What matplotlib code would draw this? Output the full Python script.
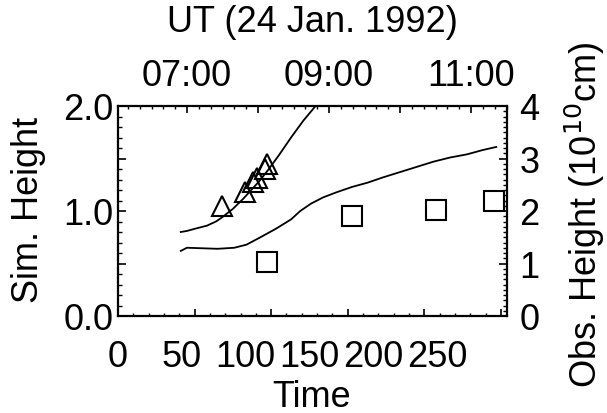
import matplotlib
matplotlib.use("Agg")
import matplotlib.pyplot as plt
from matplotlib.ticker import FixedLocator, MultipleLocator, FuncFormatter

plt.rcParams['font.family'] = ['Liberation Sans', 'DejaVu Sans']

# ---- data ----
# simulation curves (Time, Sim. Height)
sim1_t = [41, 45, 50, 58, 64, 68, 75, 82, 87, 92, 98, 105, 113, 121, 129, 133]
sim1_h = [0.80, 0.81, 0.83, 0.86, 0.90, 0.94, 1.02, 1.12, 1.20, 1.28, 1.39, 1.53, 1.70, 1.86, 2.00, 2.07]
sim2_t = [41, 45, 55, 65, 76, 84, 93, 103, 113, 119, 126, 134, 143, 153, 163, 173, 184, 195, 206, 217, 228, 238, 247]
sim2_h = [0.62, 0.65, 0.645, 0.64, 0.65, 0.68, 0.75, 0.83, 0.92, 1.00, 1.07, 1.13, 1.18, 1.23, 1.27, 1.32,
          1.37, 1.42, 1.47, 1.51, 1.54, 1.58, 1.61]
# observations (UT hours, Obs. Height in 1e10 cm)
tri_ut = [7.49, 7.82, 7.93, 7.98, 8.10, 8.13]
tri_h = [2.10, 2.37, 2.55, 2.62, 2.80, 2.90]
sq_ut = [8.12, 9.32, 10.51, 11.32]
sq_h = [1.03, 1.90, 2.01, 2.20]

time_ticks = [0, 50, 100, 150, 200, 250]
ut_ticks = [7, 8, 9, 10, 11]
ut_labels = {7: "07:00", 9: "09:00", 11: "11:00"}
sim_ticks = [0.0, 0.5, 1.0, 1.5, 2.0]
sim_labels = {0.0: "0.0", 1.0: "1.0", 2.0: "2.0"}
obs_ticks = [0, 1, 2, 3, 4]

FS = 26
fig = plt.figure(figsize=(6.07, 4.14), dpi=100)
pos = [118 / 607, 1 - 317 / 414, (507 - 118) / 607, (317 - 107) / 414]

ax = fig.add_axes(pos)
ax.set_xlim(0, 254)
ax.set_ylim(0, 2.0)
ax.plot(sim1_t, sim1_h, color='black', lw=1.3)
ax.plot(sim2_t, sim2_h, color='black', lw=1.3)

# bottom axis: tick marks at true positions, labels placed as drawn in the reference
ax.xaxis.set_major_locator(FixedLocator(time_ticks))
ax.xaxis.set_minor_locator(MultipleLocator(10))
ax.set_xticklabels([])
ax.tick_params(axis='x', which='major', direction='in', length=5, width=1.2, top=False)
ax.tick_params(axis='x', which='minor', direction='in', length=2.5, width=1.0, top=False)
for v in time_ticks:
    ax.text(v * 0.833, -0.39, str(v), ha='center', va='center', fontsize=FS,
            transform=ax.transData, clip_on=False)

ax.yaxis.set_major_locator(FixedLocator(sim_ticks))
ax.yaxis.set_minor_locator(MultipleLocator(0.1))
ax.yaxis.set_major_formatter(FuncFormatter(lambda v, p: sim_labels.get(round(v, 1), "")))
ax.tick_params(axis='y', which='major', direction='in', length=6, width=1.2, right=False,
               labelsize=FS, pad=3)
ax.tick_params(axis='y', which='minor', direction='in', length=3, width=1.0, right=False)

# observation axes (top UT, right Obs. Height)
ax2 = fig.add_axes(pos, frameon=False)
ax2.patch.set_visible(False)
ax2.set_xlim(6.028, 11.507)
ax2.set_ylim(0, 4)
ax2.plot(tri_ut, tri_h, linestyle='none', marker='^', markersize=14, markerfacecolor='none',
         markeredgecolor='black', markeredgewidth=1.5, clip_on=False)
ax2.plot(sq_ut, sq_h, linestyle='none', marker='s', markersize=14, markerfacecolor='none',
         markeredgecolor='black', markeredgewidth=1.5, clip_on=False)
ax2.xaxis.tick_top()
ax2.yaxis.tick_right()
ax2.xaxis.set_major_locator(FixedLocator(ut_ticks))
ax2.xaxis.set_minor_locator(MultipleLocator(1 / 6))
ax2.xaxis.set_major_formatter(FuncFormatter(lambda v, p: ut_labels.get(int(round(v)), "")))
ax2.tick_params(axis='x', which='major', direction='in', length=5, width=1.2, labelsize=FS, pad=9)
ax2.tick_params(axis='x', which='minor', direction='in', length=2.5, width=1.0)
ax2.yaxis.set_major_locator(FixedLocator(obs_ticks))
ax2.yaxis.set_minor_locator(MultipleLocator(0.1))
ax2.tick_params(axis='y', which='major', direction='in', length=6, width=1.2, labelsize=FS, pad=9)
ax2.tick_params(axis='y', which='minor', direction='in', length=3, width=1.0)

for sp in ax.spines.values():
    sp.set_linewidth(1.6)

fig.text(312 / 607, 1 - 22 / 414, "UT (24 Jan. 1992)", ha='center', va='center', fontsize=FS)
fig.text(312 / 607, 1 - 398 / 414, "Time", ha='center', va='center', fontsize=FS)
fig.text(29 / 607, 1 - 210 / 414, "Sim. Height", ha='center', va='center', rotation=90, fontsize=FS)
fig.text(585 / 607, 1 - 215 / 414, r"Obs. Height (10$^{10}$cm)", ha='center', va='center',
         rotation=90, fontsize=FS)

fig.savefig("out.png", dpi=100, facecolor='white')
